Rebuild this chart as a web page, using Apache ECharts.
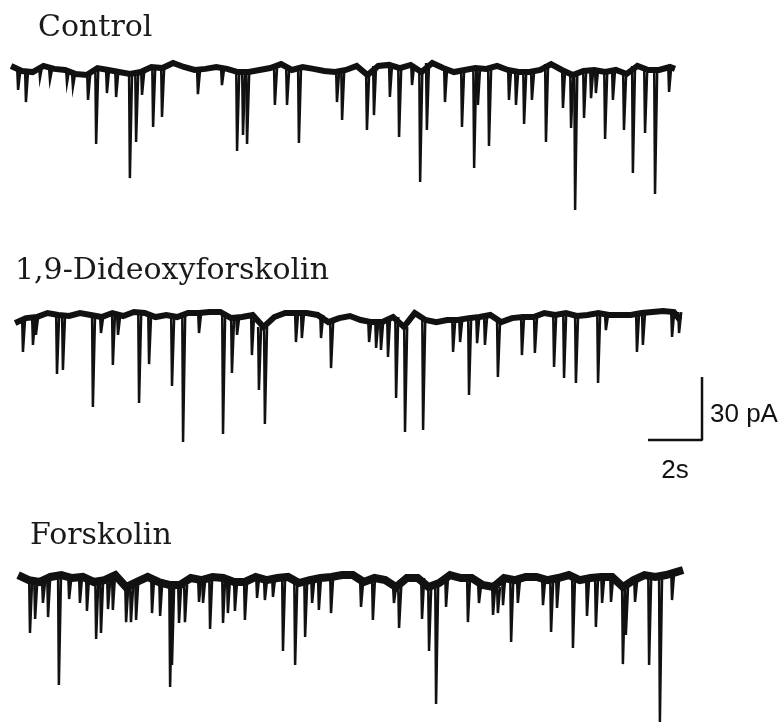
<!DOCTYPE html>
<html>
<head>
<meta charset="utf-8">
<script src="https://cdn.jsdelivr.net/npm/echarts@6/dist/echarts.min.js"></script>
<style>
  html, body { margin: 0; padding: 0; background: #fff; }
  #chart { width: 782px; height: 724px; }
</style>
</head>
<body>
<div id="chart"></div>
<script>
// Whole-cell recordings of miniature synaptic currents (time in s, current in pA).
// Baseline is read every TIME_STEP seconds from the trace start; events are [time, peak].
const TIME_STEP = 0.4;

const traceNames = ['Control', '1,9-Dideoxyforskolin', 'Forskolin'];

const controlStart = 0.04;
const controlEnd = [24.63, 1.0];
const controlBase = [
  2.4, 0, -0.5, 2.4, 1.0, 0.5, -1.4, -1.9, 1.4, 0.5, -0.5, -1.4, -0.5, 1.9, 1.4, 3.8,
  1.9, 0.5, 1.0, 1.9, 1.0, -0.5, -0.5, 0.5, 1.4, 3.3, 0.5, 1.9, 1.0, 0, -0.5, 0.5,
  2.4, -1.9, 2.4, 2.9, 1.4, 2.9, -0.5, 3.8, 1.4, -0.5, 0.5, 1.4, 1.0, 2.4, 0.5,
  -0.5, -0.5, 0.5, 3.3, 0.5, -1.9, 0, 0.5, -0.5, 0.5, -1.4, 2.4, 0.5, 0.5, 1.9
];
const controlEvents = [
  [0.30, -9.0], [0.59, -14.8], [1.11, -3.3], [1.48, -4.3], [2.11, -5.7], [2.33, -7.6],
  [2.89, -13.8], [3.19, -34.8], [3.59, -10.5], [3.93, -12.4], [4.44, -51.0], [4.67, -33.8],
  [4.89, -11.4], [5.30, -26.7], [5.63, -21.9], [6.96, -11.0], [7.85, -6.7], [8.41, -38.1],
  [8.63, -30.5], [8.78, -34.8], [9.81, -16.2], [10.26, -16.2], [10.70, -34.3], [12.11, -14.8],
  [12.30, -23.3], [13.22, -28.1], [13.48, -21.0], [14.07, -12.4], [14.41, -31.4], [14.89, -6.7],
  [15.19, -52.9], [15.44, -28.1], [16.11, -14.8], [16.74, -26.7], [17.19, -46.2], [17.33, -16.2],
  [17.74, -35.7], [18.48, -13.8], [18.74, -16.2], [19.04, -25.2], [19.33, -13.8], [19.85, -33.8],
  [20.48, -17.6], [20.78, -27.1], [20.93, -66.2], [21.26, -22.4], [21.52, -12.9], [21.70, -10.5],
  [22.04, -32.4], [22.33, -13.8], [22.74, -28.1], [23.07, -48.6], [23.52, -29.5], [23.89, -58.6],
  [24.41, -10.0]
];

const dideoxyStart = 0.19;
const dideoxyEnd = [24.81, -1.9];
const dideoxyBase = [
  -3.3, -1.0, -0.5, 1.4, 0.5, 0, 1.4, 0.5, -0.5, 1.4, 0, 1.9, 1.4, -0.5, 0.5, -0.5,
  1.4, 1.4, 1.9, 1.9, -1.0, -0.5, 0.5, -5.2, -0.5, 1.4, 1.4, 1.4, 0.5, -2.9, -1.0, 0,
  -1.9, -2.9, -2.9, -0.5, -5.2, 1.4, -1.9, -2.9, -1.9, -1.9, -1.0, -0.5, 0.5, -2.9,
  -1.0, -0.5, -0.5, 1.4, 0.5, 1.4, 0, 0.5, 1.4, 0.5, 0.5, 0.5, 1.4, 1.9, 2.4, 1.9
];
const dideoxyEvents = [
  [0.48, -17.1], [0.85, -13.8], [0.96, -9.0], [1.74, -27.6], [1.96, -25.7], [3.07, -43.3],
  [3.37, -8.1], [3.81, -23.3], [4.00, -9.0], [4.78, -41.4], [5.15, -22.9], [6.00, -33.3],
  [6.41, -60.0], [7.00, -8.1], [7.89, -56.2], [8.22, -27.1], [8.41, -9.0], [8.96, -18.6],
  [9.22, -35.2], [9.44, -51.4], [10.59, -12.4], [10.81, -10.5], [11.52, -10.5], [11.89, -24.8],
  [13.30, -12.4], [13.56, -15.2], [13.74, -16.2], [14.00, -19.5], [14.30, -39.0], [14.63, -55.2],
  [15.30, -54.3], [16.41, -17.1], [16.67, -12.4], [17.00, -37.6], [17.30, -12.9], [17.59, -13.8],
  [18.07, -29.0], [18.96, -18.6], [19.44, -17.6], [20.15, -24.3], [20.52, -29.5], [20.96, -31.9],
  [21.78, -31.9], [22.07, -6.7], [23.22, -17.1], [23.44, -13.8], [24.52, -10.0], [24.78, -8.1]
];

const forskolinStart = 0.30;
const forskolinEnd = [24.93, 3.8];
const forskolinBase = [
  1.4, -1.0, -1.9, 0.5, 1.4, 0, 0.5, -1.9, -1.0, 1.4, -4.3, -1.9, 0.5, -1.9, -3.3, -3.3,
  0, -1.0, 0.5, 0, -1.9, -1.9, 0.5, -1.0, 0, 0.5, -2.4, -1.0, 0, 0.5, 1.4,
  1.4, -1.9, 0, -1.0, -4.3, 0, 0, -4.3, -2.4, 1.4, 0, 0, -3.3, -4.3, 0, -1.0,
  0.5, 0.5, -1.0, 0, 1.4, -1.0, 0, 0.5, 0.5, -4.3, -1.0, 1.4, 0.5, 1.4, 2.9
];
const forskolinEvents = [
  [0.74, -26.2], [0.93, -19.5], [1.22, -11.9], [1.41, -18.6], [1.81, -51.0], [2.19, -10.0],
  [2.59, -11.9], [2.85, -15.7], [3.19, -29.0], [3.37, -26.2], [3.63, -14.8], [3.81, -15.2],
  [4.30, -21.0], [4.48, -21.0], [4.67, -20.0], [5.26, -16.7], [5.56, -18.1], [5.93, -51.9],
  [6.00, -41.4], [6.26, -21.4], [6.48, -21.0], [7.00, -11.4], [7.15, -11.9], [7.41, -24.3],
  [7.89, -21.4], [8.07, -16.7], [8.33, -15.7], [8.70, -20.0], [9.15, -9.5], [9.44, -10.5],
  [9.74, -9.0], [10.11, -34.8], [10.56, -41.4], [10.93, -28.1], [11.19, -11.9], [11.44, -15.2],
  [11.89, -16.7], [13.00, -13.8], [13.44, -20.0], [14.22, -11.9], [14.41, -23.8], [15.26, -19.5],
  [15.52, -34.8], [15.78, -60.0], [16.15, -13.8], [16.96, -21.0], [17.37, -11.9], [17.89, -17.6],
  [18.07, -16.7], [18.26, -12.9], [18.56, -30.5], [18.81, -11.9], [19.74, -12.9], [20.04, -25.7],
  [20.26, -14.3], [20.85, -33.3], [21.37, -18.1], [21.70, -23.3], [21.93, -11.9], [22.26, -11.4],
  [22.70, -41.0], [22.81, -27.1], [23.15, -11.4], [23.67, -41.4], [24.07, -68.6], [24.52, -10.5]
];

// Calibration bar drawn beside the middle trace
const scaleSeconds = 2;
const scalePicoAmps = 30;
const scaleLabels = ['2s', '30 pA'];

const traces = [
  { start: controlStart, base: controlBase, end: controlEnd, events: controlEvents },
  { start: dideoxyStart, base: dideoxyBase, end: dideoxyEnd, events: dideoxyEvents },
  { start: forskolinStart, base: forskolinBase, end: forskolinEnd, events: forskolinEvents }
];

const INK = '#111';

function basePoints(tr) {
  const pts = tr.base.map((v, k) => [tr.start + k * TIME_STEP, v]);
  pts.push(tr.end);
  return pts;
}

// baseline level at the reading closest to time t
function nearestBase(tr, t) {
  let k = Math.round((t - tr.start) / TIME_STEP);
  k = Math.max(0, Math.min(tr.base.length - 1, k));
  return tr.base[k];
}

// each event: sharp downward deflection and a short return to the baseline
function eventPaths(tr) {
  return tr.events.map(([t, peak]) => {
    const b = nearestBase(tr, t);
    return { coords: [[t - 0.03, b], [t, peak], [t + 0.08, b]] };
  });
}

const grids = [
  { left: 10, top: 50, width: 756, height: 168 },
  { left: 10, top: 295, width: 756, height: 168 },
  { left: 10, top: 557, width: 756, height: 165.9 }
];
const yRanges = [[-70, 10], [-70, 10], [-69, 10]];
const bandWidths = [6, 6, 8];

const series = [];
traces.forEach((tr, i) => {
  series.push({
    type: 'line',
    xAxisIndex: i, yAxisIndex: i,
    data: basePoints(tr),
    symbol: 'none',
    silent: true,
    lineStyle: { color: INK, width: bandWidths[i], join: 'miter' }
  });
  series.push({
    type: 'lines',
    coordinateSystem: 'cartesian2d',
    xAxisIndex: i, yAxisIndex: i,
    polyline: true,
    silent: true,
    data: eventPaths(tr),
    lineStyle: { color: INK, width: 2.5, opacity: 1 }
  });
});

// calibration bar: 2 s horizontal, 30 pA vertical
const barX = 25.63, barY = -59;
series.push({
  type: 'line',
  xAxisIndex: 1, yAxisIndex: 1,
  symbol: 'none',
  silent: true,
  data: [[barX - scaleSeconds, barY], [barX, barY], [barX, barY + scalePicoAmps]],
  lineStyle: { color: INK, width: 2.5 }
});
series.push({
  type: 'scatter',
  xAxisIndex: 1, yAxisIndex: 1,
  symbolSize: 0,
  silent: true,
  itemStyle: { opacity: 1 },
  data: [
    { value: [barX - scaleSeconds / 2, barY], label: { show: true, formatter: scaleLabels[0], position: 'bottom', distance: 18 } },
    { value: [barX, barY + scalePicoAmps / 2], label: { show: true, formatter: scaleLabels[1], position: 'right', distance: 8, offset: [0, 6] } }
  ],
  label: { color: '#111', opacity: 1, fontFamily: 'Liberation Sans', fontSize: 26 }
});

const labelPos = [[38, 13], [15, 256], [30, 521]];
const graphic = traceNames.map((name, i) => ({
  type: 'text',
  x: labelPos[i][0],
  y: labelPos[i][1],
  silent: true,
  style: {
    text: name,
    fill: '#1a1a1a',
    fontFamily: 'DejaVu Serif',
    fontSize: 30,
    align: 'left',
    verticalAlign: 'top'
  }
}));

const chart = echarts.init(document.getElementById('chart'), null, { renderer: 'canvas' });
chart.setOption({
  backgroundColor: '#fff',
  animation: false,
  grid: grids,
  xAxis: grids.map((g, i) => ({ type: 'value', gridIndex: i, min: 0, max: 28, show: false })),
  yAxis: grids.map((g, i) => ({ type: 'value', gridIndex: i, min: yRanges[i][0], max: yRanges[i][1], show: false })),
  series: series,
  graphic: graphic
});
</script>
</body>
</html>
